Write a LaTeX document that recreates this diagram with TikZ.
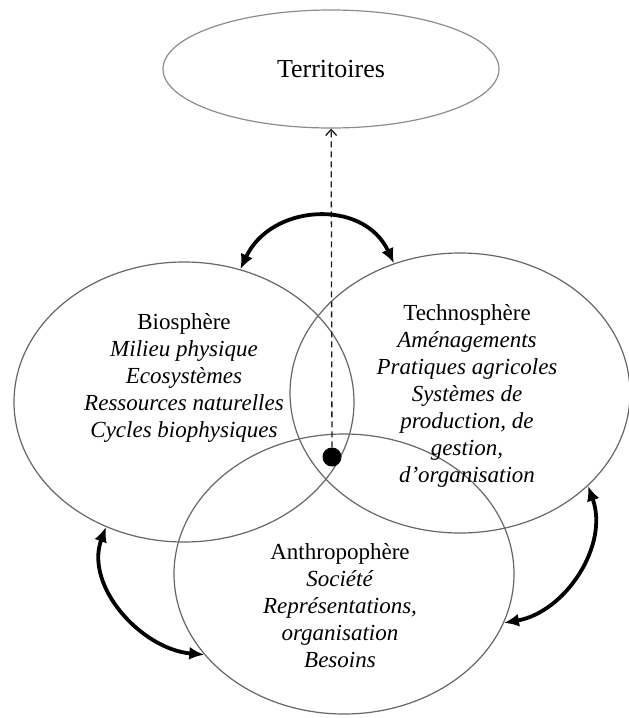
\documentclass[tikz,border=0pt]{standalone}
\usepackage{fontspec}
\setmainfont{Liberation Serif}
\usepackage[HTML]{xcolor}
\usepackage{tikz}
\usetikzlibrary{arrows.meta, shapes.geometric}

\begin{document}
\begin{tikzpicture}[x=1pt, y=-1pt,
  sphere/.style={ellipse, draw=black!60, line width=1.2pt, minimum width=340pt, minimum height=280pt, inner sep=0pt},
  spheretext/.style={align=center, font=\fontsize{23}{27}\selectfont, text=black},
  link/.style={line width=3.8pt, {Latex[length=15pt,width=13pt]}-{Latex[length=15pt,width=13pt]}},
  hubdot/.style={circle, fill=black, minimum size=19pt, inner sep=0pt}]
\useasboundingbox (0,0) rectangle (629,718);

% --- Territoires ---
\node[ellipse, draw=black!45, line width=1.2pt, minimum width=336pt, minimum height=118pt, spheretext, font=\fontsize{26}{30}\selectfont] (terr) at (331,69) {Territoires};

% --- Three spheres ---
\node[sphere] (bio) at (184,402) {};
\node[sphere] (techno) at (460,393) {};
\node[sphere] (anthropo) at (344,574) {};

\node[spheretext] (biotext) at (184,378) {Biosphère\\ \textit{Milieu physique}\\ \textit{Ecosystèmes}\\ \textit{Ressources naturelles}\\ \textit{Cycles biophysiques}};
\node[spheretext] (technotext) at (467,396) {Technosphère\\ \textit{Aménagements}\\ \textit{Pratiques agricoles}\\ \textit{Systèmes de}\\ \textit{production, de}\\ \textit{gestion,}\\ \textit{d’organisation}};
\node[spheretext] (anthropotext) at (340,606) {Anthropophère\\ \textit{Société}\\ \textit{Représentations,}\\ \textit{organisation}\\ \textit{Besoins}};

% --- Centre and link to Territoires ---
\node[hubdot] (hub) at (332,457) {};
\draw[black!90, line width=1.3pt, dash pattern=on 6pt off 4pt, -{Straight Barb[length=6pt,width=11pt]}] (hub) -- (terr);

% --- Interactions ---
\draw[link] (bio.67) to[out=65, in=115, looseness=1.2] (techno.117);
\draw[link] (bio.238) to[out=250, in=175] (anthropo.210);
\draw[link] (techno.324) to[out=290, in=10] (anthropo.343);
\end{tikzpicture}
\end{document}
